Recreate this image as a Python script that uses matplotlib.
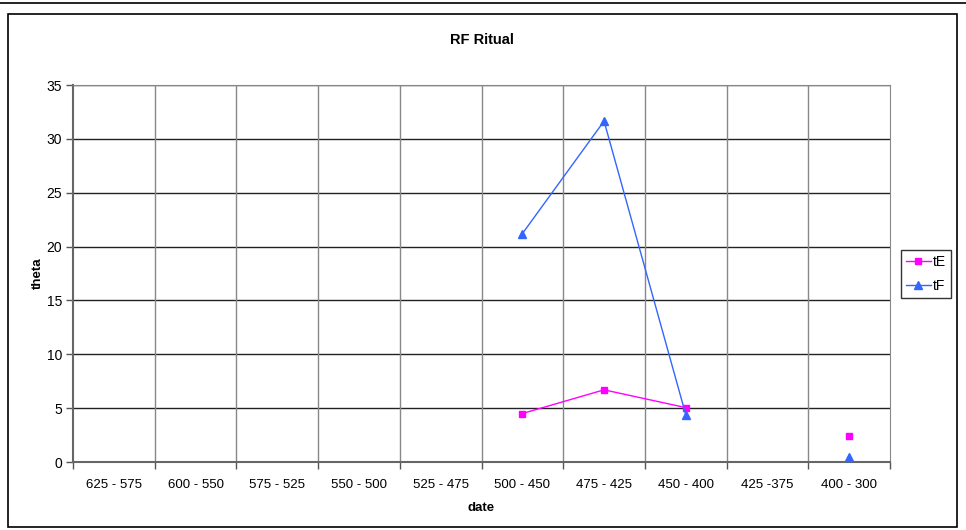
import numpy as np
import matplotlib
matplotlib.use("Agg")
import matplotlib.pyplot as plt
from matplotlib.patches import Rectangle
from matplotlib.lines import Line2D

categories = ["625 - 575", "600 - 550", "575 - 525", "550 - 500", "525 - 475",
              "500 - 450", "475 - 425", "450 - 400", "425 -375", "400 - 300"]
tE = [np.nan, np.nan, np.nan, np.nan, np.nan, 4.5, 6.7, 5.05, np.nan, 2.4]
tF = [np.nan, np.nan, np.nan, np.nan, np.nan, 21.2, 31.65, 4.4, np.nan, 0.5]
yticks = [0, 5, 10, 15, 20, 25, 30, 35]

plt.rcParams['font.family'] = ['Liberation Sans', 'DejaVu Sans']

fig = plt.figure(figsize=(9.66, 5.30), dpi=100)
W, H = 966, 530
ax = fig.add_axes([73 / W, 1 - 462 / H, (890 - 73) / W, (462 - 85) / H])

x = np.arange(len(categories))
ax.plot(x, tE, color="#FF00FF", lw=1, marker="s", ms=5, label="tE", zorder=3)
ax.plot(x, tF, color="#3366FF", lw=1, marker="^", ms=6, label="tF", zorder=3)

ax.set_xlim(-0.5, len(categories) - 0.5)
ax.set_ylim(0, 35)
ax.set_yticks(yticks)
ax.set_xticks(x)
ax.set_xticklabels(categories)
ax.set_xticks(np.arange(-0.5, len(categories), 1), minor=True)
ax.tick_params(axis="x", which="major", length=0, pad=12, labelsize=9.5)
ax.tick_params(axis="x", which="minor", length=5, width=1, color="#555555", direction="out")
ax.tick_params(axis="y", length=5, width=1, color="#555555", direction="out", labelsize=10, pad=3)

for yv in yticks[1:]:
    ax.axhline(yv, color="#222222", lw=1, zorder=1)
for xv in np.arange(0.5, len(categories) - 0.5, 1):
    ax.axvline(xv, color="#888888", lw=1, zorder=1)

for s in ["top", "right"]:
    ax.spines[s].set_color("#888888")
for s in ["left", "bottom"]:
    ax.spines[s].set_color("#666666")
    ax.spines[s].set_linewidth(1.5)

ax.set_xlabel("date", fontweight="bold", fontsize=9.5, labelpad=8)
ax.set_ylabel("theta", fontweight="bold", fontsize=9.5, labelpad=2)
fig.text(0.5 * (73 + 890) / W, 1 - 40 / H, "RF Ritual", ha="center", va="center",
         fontweight="bold", fontsize=10.5)

leg = ax.legend(loc="center left", bbox_to_anchor=(901 / W, 1 - 274 / H),
                bbox_transform=fig.transFigure, frameon=True, fancybox=False,
                fontsize=10, handlelength=1.8, borderpad=0.35, labelspacing=0.7,
                handletextpad=0.15, borderaxespad=0)
leg.get_frame().set_edgecolor("black")
leg.get_frame().set_linewidth(1)

fig.patches.append(Rectangle((8 / W, 1 - 527 / H), (957 - 8) / W, (527 - 14) / H,
                             transform=fig.transFigure, fill=False, ec="black", lw=1.2))
fig.lines.append(Line2D([0, 1], [1 - 2.5 / H, 1 - 2.5 / H], transform=fig.transFigure,
                        color="black", lw=1.2))

fig.savefig("out.png", dpi=100)
